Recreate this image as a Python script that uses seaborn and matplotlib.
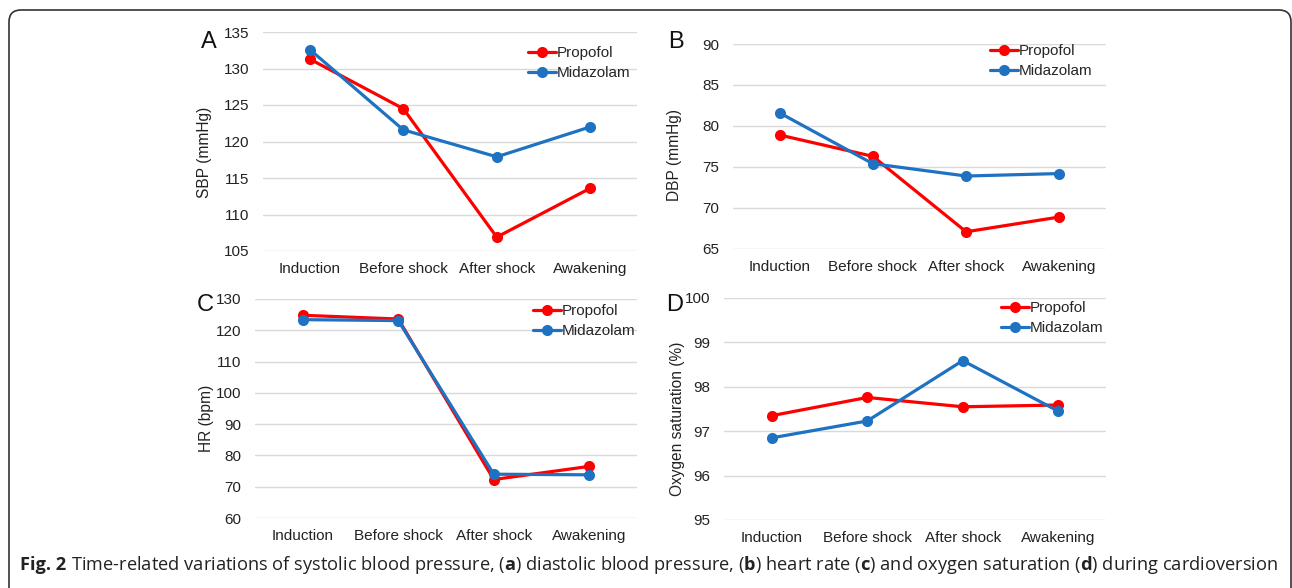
import matplotlib
matplotlib.use("Agg")
import matplotlib.pyplot as plt
from matplotlib.lines import Line2D
from matplotlib.patches import FancyBboxPatch
import pandas as pd
import seaborn as sns

# values
timepoints = ["Induction", "Before shock", "After shock", "Awakening"]
groups = ["Propofol", "Midazolam"]

sbp_propofol = [131.3, 124.5, 106.9, 113.6]
sbp_midazolam = [132.6, 121.6, 117.9, 122.0]
dbp_propofol = [78.9, 76.3, 67.1, 68.9]
dbp_midazolam = [81.6, 75.4, 73.9, 74.2]
hr_propofol = [124.8, 123.6, 72.3, 76.5]
hr_midazolam = [123.4, 123.1, 74.0, 73.8]
spo2_propofol = [97.35, 97.76, 97.55, 97.59]
spo2_midazolam = [96.85, 97.23, 98.59, 97.45]

sbp_ticks = [105, 110, 115, 120, 125, 130, 135]
dbp_ticks = [65, 70, 75, 80, 85, 90]
hr_ticks = [60, 70, 80, 90, 100, 110, 120, 130]
spo2_ticks = [95, 96, 97, 98, 99, 100]

caption_head = "Fig. 2"
caption_body = (r"Time-related variations of systolic blood pressure, "
                r"($\mathbf{a}$) diastolic blood pressure, ($\mathbf{b}$) heart rate "
                r"($\mathbf{c}$) and oxygen saturation ($\mathbf{d}$) during cardioversion")

colors = {"Propofol": "#ff0000", "Midazolam": "#1f72c1"}

sns.set_theme(style="white")
plt.rcParams["font.family"] = ["Liberation Sans", "DejaVu Sans"]
plt.rcParams["mathtext.fontset"] = "custom"
plt.rcParams["mathtext.rm"] = "Open Sans"
plt.rcParams["mathtext.bf"] = "Open Sans:bold"

W, H = 1292, 588
fig = plt.figure(figsize=(W / 100, H / 100), dpi=100)


def long_df(prop, mida):
    return pd.DataFrame({
        "time": timepoints * 2,
        "value": prop + mida,
        "group": ["Propofol"] * 4 + ["Midazolam"] * 4,
    })


# left, top, right, bottom in pixels
panels = [
    dict(box=(263, 32, 637, 251), prop=sbp_propofol, mida=sbp_midazolam, ticks=sbp_ticks,
         ylabel="SBP (mmHg)", letter="A", letter_xy=(209, 42), ylab_xy=(205, 152), leg_xy=(528, 46)),
    dict(box=(733, 44, 1106, 249), prop=dbp_propofol, mida=dbp_midazolam, ticks=dbp_ticks,
         ylabel="DBP (mmHg)", letter="B", letter_xy=(676, 42), ylab_xy=(675, 155), leg_xy=(990, 44)),
    dict(box=(255, 299, 637, 518), prop=hr_propofol, mida=hr_midazolam, ticks=hr_ticks,
         ylabel="HR (bpm)", letter="C", letter_xy=(205, 305), ylab_xy=(207, 418), leg_xy=(533, 304)),
    dict(box=(724, 298, 1106, 520), prop=spo2_propofol, mida=spo2_midazolam, ticks=spo2_ticks,
         ylabel="Oxygen saturation (%)", letter="D", letter_xy=(675, 305), ylab_xy=(677, 419), leg_xy=(1001, 301)),
]

for p in panels:
    l, t, r, b = p["box"]
    ax = fig.add_axes([l / W, 1 - b / H, (r - l) / W, (b - t) / H])
    sns.lineplot(data=long_df(p["prop"], p["mida"]), x="time", y="value", hue="group",
                 hue_order=groups, palette=colors, marker="o", markersize=8,
                 markeredgewidth=0, linewidth=2.3, legend=False, ax=ax)
    ax.set_xlim(-0.5, 3.5)
    ax.set_ylim(p["ticks"][0], p["ticks"][-1])
    ax.set_yticks(p["ticks"])
    ax.yaxis.grid(True, color="#d9d9d9", linewidth=1)
    ax.set_axisbelow(True)
    for s in ax.spines.values():
        s.set_visible(False)
    ax.tick_params(axis="y", length=0, pad=10, labelsize=11, labelcolor="#222222")
    ax.tick_params(axis="x", length=0, pad=8, labelsize=11, labelcolor="#222222")
    ax.set_xlabel("")
    ax.set_ylabel("")

    fig.text(p["ylab_xy"][0] / W, 1 - p["ylab_xy"][1] / H, p["ylabel"], rotation=90,
             ha="center", va="center", fontsize=11.2, color="#222222")
    fig.text(p["letter_xy"][0] / W, 1 - p["letter_xy"][1] / H, p["letter"],
             ha="center", va="center", fontsize=17, color="#111111")

    handles = [Line2D([], [], color=colors[g], linewidth=2.3, marker="o", markersize=8,
                      markeredgewidth=0) for g in groups]
    ax.legend(handles, groups, loc="upper left",
              bbox_to_anchor=(p["leg_xy"][0] / W, 1 - p["leg_xy"][1] / H),
              bbox_transform=fig.transFigure, frameon=False, fontsize=11,
              handlelength=1.8, handletextpad=0.1, borderpad=0, borderaxespad=0,
              labelspacing=0.4)

# caption: bold head + regular body, scaled to span the reference width
cap_font = ["Open Sans", "DejaVu Sans"]
head = fig.text(20 / W, 1 - 565 / H, caption_head, ha="left", va="center", fontsize=11,
                family=cap_font, weight="bold", color="#222222")
body = fig.text(0, 1 - 565 / H, caption_body, ha="left", va="center", fontsize=11,
                family=cap_font, color="#222222")
renderer = fig.canvas.get_renderer()
total = (head.get_window_extent(renderer).width + body.get_window_extent(renderer).width
         + 0.27 * 11 * 100 / 72)
size = 11 * 1258 / total
head.set_fontsize(size)
body.set_fontsize(size)
head_w = head.get_window_extent(renderer).width
body.set_x((20 + head_w + 0.27 * size * 100 / 72) / W)

# rounded frame around the figure
frame = FancyBboxPatch((0.09, -0.5), 12.82, 5.78 + 0.5,
                       boxstyle="round,pad=0,rounding_size=0.12",
                       transform=fig.dpi_scale_trans, fill=False,
                       edgecolor="#333333", linewidth=1.2)
fig.patches.append(frame)

fig.savefig("out.png", dpi=100)
